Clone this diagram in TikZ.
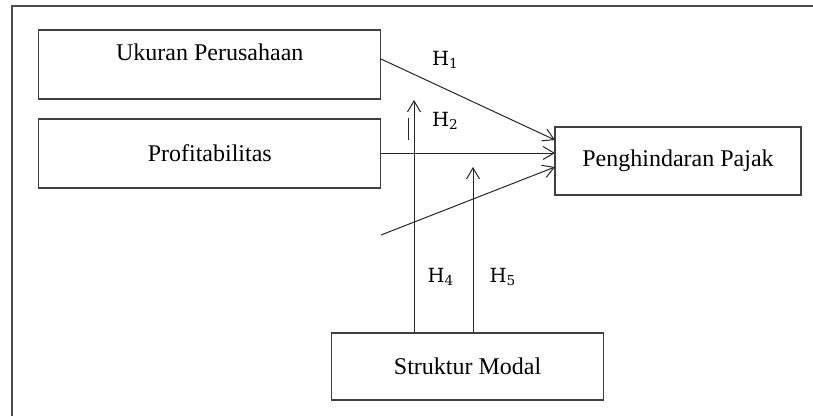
\documentclass[tikz,border=0pt]{standalone}
\usepackage{fontspec}
\setmainfont{Liberation Serif}
\newfontfamily\hfont{DejaVu Serif}
\usetikzlibrary{arrows.meta}
\begin{document}
\begin{tikzpicture}[x=1pt,y=-1pt,
  framebox/.style={draw=black!75, line width=1.3pt, inner sep=0pt},
  boxtext/.style={font=\fontsize{24}{28}\selectfont, inner sep=0pt},
  hlab/.style={font=\hfont\fontsize{19.5}{22}\selectfont, inner sep=0pt, anchor=base west},
  arr/.style={draw=black!85, line width=1pt, -{Straight Barb[length=11pt,width=13pt]}},
  plainline/.style={draw=black!85, line width=1pt}]
\useasboundingbox (0,0) rectangle (813,416);
% outer frame (top and left sides visible)
\draw[line width=2pt, draw=black!70] (11.5,416) -- (11.5,5.5) -- (813,5.5);
% boxes
\node[framebox, minimum width=342pt, minimum height=69pt] (uk) at (209.8,64.5) {};
\node[boxtext] (uktext) at (209.8,52) {Ukuran Perusahaan};
\node[framebox, minimum width=342pt, minimum height=69pt] (pr) at (209.8,153.5) {};
\node[boxtext] (prtext) at (209.8,153.5) {Profitabilitas};
\node[framebox, minimum width=246pt, minimum height=68pt] (ph) at (678,161) {};
\node[boxtext] (phtext) at (678,161) {Penghindaran Pajak};
\node[framebox, minimum width=272pt, minimum height=67pt] (sm) at (467.6,366.5) {};
\node[boxtext] (smtext) at (467.6,366.5) {Struktur Modal};
% connector points
\coordinate (s1) at (381,59);
\coordinate (e1) at (555,140);
\coordinate (s2) at (381,153);
\coordinate (e2) at (555,153);
\coordinate (s3) at (381,235);
\coordinate (e3) at (555,167);
\coordinate (t4) at (414,100);
\coordinate (t5) at (473,167);
\coordinate (m1) at (408,118);
\coordinate (m2) at (408,140);
% connectors
\draw[arr] (s1) -- (e1);
\draw[arr] (s2) -- (e2);
\draw[arr] (s3) -- (e3);
\draw[arr] (sm.north -| t4) -- (t4);
\draw[arr] (sm.north -| t5) -- (t5);
\draw[plainline] (m1) -- (m2);
% labels
\node[hlab] (h1) at (432,65) {H\textsubscript{1}};
\node[hlab] (h2) at (432,126) {H\textsubscript{2}};
\node[hlab] (h4) at (427.5,282) {H\textsubscript{4}};
\node[hlab] (h5) at (489.5,282) {H\textsubscript{5}};
\end{tikzpicture}
\end{document}
